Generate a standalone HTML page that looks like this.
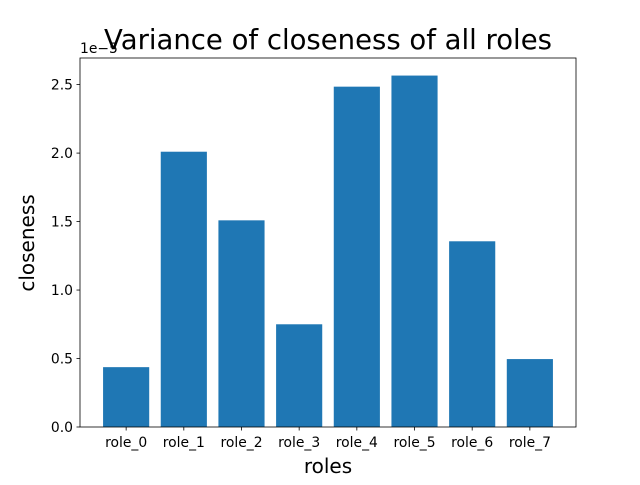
<!DOCTYPE html>
<html><head><meta charset="utf-8"><style>
body{margin:0;background:#fff;}
svg text{font-family:"DejaVu Sans","Liberation Sans",sans-serif;}
</style></head><body>
<svg id="chart" width="640" height="480" xmlns="http://www.w3.org/2000/svg">
<rect width="640" height="480" fill="#fff"/>
<g id="bars"></g>
<g id="axes"></g>
<text x="80" y="53" font-size="13.9">1e−5</text>
<text x="328" y="49" text-anchor="middle" font-size="27.5">Variance of closeness of all roles</text>
<text x="328" y="473" text-anchor="middle" font-size="20">roles</text>
<text transform="translate(40,243) rotate(-90)" text-anchor="middle" font-size="20" dy="0" x="0" y="0" style="" id="ytitle">closeness</text>
</svg>
<script>
const categories=["role_0","role_1","role_2","role_3","role_4","role_5","role_6","role_7"];
const values=[0.437,2.01,1.509,0.75,2.485,2.566,1.356,0.496];
const yTicks=[0,0.5,1.0,1.5,2.0,2.5];
const yTickLabels=["0.0","0.5","1.0","1.5","2.0","2.5"];
const L=80,R=576,T=58,B=427;
const ns="http://www.w3.org/2000/svg";
const ymax=Math.max(...values)*1.05;
const xmin=-0.8,xmax=categories.length-1+0.8;
const xs=v=>L+(v-xmin)/(xmax-xmin)*(R-L);
const ys=v=>B-v/ymax*(B-T);
document.getElementById('ytitle').setAttribute('transform','translate(40,243) rotate(-90)');
document.getElementById('ytitle').setAttribute('transform','translate(40,243) rotate(-90)');
document.getElementById('ytitle').setAttribute('transform','translate(34,243) rotate(-90)');
const bars=document.getElementById('bars'),axes=document.getElementById('axes');
function mk(tag,attrs,parent){const e=document.createElementNS(ns,tag);for(const k in attrs)e.setAttribute(k,attrs[k]);parent.appendChild(e);return e;}
values.forEach((v,i)=>{
 const r=mk('rect',{x:xs(i-0.4),y:ys(v),width:xs(0.4)-xs(-0.4),height:B-ys(v),fill:'#1f77b4'},bars);
 
 
 mk('line',{x1:xs(i),x2:xs(i),y1:B,y2:B+3.5,stroke:'#000','stroke-width':0.8},axes);
 const lb=mk('text',{x:xs(i),y:B+20,'text-anchor':'middle','font-size':13.9},axes);
 lb.textContent=categories[i];
 
 
});
yTicks.forEach((v,i)=>{
 mk('line',{x1:L-3.5,x2:L,y1:ys(v),y2:ys(v),stroke:'#000','stroke-width':0.8},axes);
 const lb=mk('text',{x:L-7,y:ys(v)+5,'text-anchor':'end','font-size':13.9},axes);
 lb.textContent=yTickLabels[i];
 
 
});
const f=mk('rect',{x:L,y:T,width:R-L,height:B-T,fill:'none',stroke:'#000','stroke-width':0.8},axes);


</script>
</body></html>
